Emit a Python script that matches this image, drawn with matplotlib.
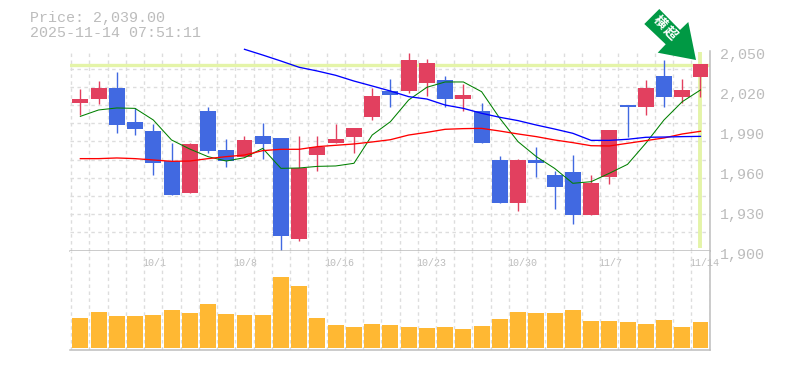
import matplotlib
matplotlib.use("Agg")
import matplotlib.pyplot as plt
import numpy as np
from matplotlib.patches import Polygon
from matplotlib.ticker import FixedLocator
from matplotlib.transforms import ScaledTranslation

W, H = 785, 370
plt.rcParams['font.family'] = ['Liberation Mono', 'Noto Sans CJK JP', 'DejaVu Sans']

highs  = [2021,2027,2034,2007,1995,1981,1981,2008,1984,1986,1996,1984,1986,1986,1995,1992,2022,2029,2048,2044,2031,2025,2011,1971,1969,1978,1960,1972,1957,1990,2009,2028,2043,2029,2040]
tops   = [2014,2022,2022,1996,1990,1967,1980,2005,1975,1983,1986,1984,1962,1978,1984,1992,2016,2020,2043,2041,2028,2017,2005,1968,1968,1968,1957,1959,1951,1990,2009,2022,2031,2020,2040]
bots   = [2011,2014,1994,1991,1966,1942,1943,1975,1967,1970,1980,1911,1909,1972,1981,1985,2000,2017,2020,2026,2014,2014,1981,1936,1936,1966,1948,1927,1927,1955,2008,2008,2015,2015,2030]
lows   = [2002,2010,1988,1987,1957,1942,1943,1973,1963,1970,1969,1900,1907,1960,1981,1973,1998,2008,2018,2016,2008,2005,1981,1936,1930,1955,1931,1920,1927,1950,1985,2002,2008,2011,2015]
rising = [1,1,0,0,0,0,1,0,0,1,0,0,1,1,1,1,1,0,1,1,0,1,0,0,1,0,0,0,1,1,0,1,0,1,1]
ma_short = [2000.6,2005.4,2006.9,2006.6,1997.9,1982.9,1976.1,1970.4,1967.1,1969.6,1976.6,1961.6,1961.9,1963.1,1963.4,1965.4,1986.6,1996.6,2012.9,2022.4,2026.4,2026.4,2019.1,1999.1,1981.6,1970.4,1961.6,1950.4,1951.6,1957.9,1964.6,1980.4,1997.9,2011.6,2020.4]
ma_mid = [1968.9,1968.9,1969.4,1968.9,1967.9,1966.9,1967.1,1968.9,1970.4,1971.6,1974.9,1975.9,1975.9,1977.9,1978.9,1979.9,1981.4,1983.1,1986.6,1988.6,1990.9,1991.4,1991.6,1989.6,1987.4,1985.4,1982.9,1980.9,1978.6,1978.4,1980.4,1982.4,1984.4,1987.4,1989.4]
ma_long_start = 9
ma_long = [2050.9,2046.6,2042.1,2037.4,2034.6,2031.4,2027.1,2023.4,2019.6,2015.4,2013.6,2009.1,2006.6,2002.9,1999.9,1997.4,1994.1,1991.1,1987.9,1982.6,1982.6,1983.4,1984.9,1985.1,1985.4,1985.6]
volumes = [30,36,32,32,33,38,35,44,34,33,33,71,62,30,23,21,24,23,21,20,21,19,22,29,36,35,35,38,27,27,26,24,28,21,26]
date_idx = [4,9,14,19,24,29,34]
date_labels = ['10/1','10/8','10/16','10/23','10/30','11/7','11/14']
y_ticks = [1900,1930,1960,1990,2020,2050]
y_labels = ['1,900','1,930','1,960','1,990','2,020','2,050']
last_price = 2039

RED, BLUE, GOLD = '#e2405f', '#4169e1', '#ffb833'
GRID, AX, TXT = '#dddddd', '#bdbdbd', '#bcbcbc'
HL = '#e4f4a8'

fig = plt.figure(figsize=(W/100, H/100), dpi=100)
def rect(l, t, r, b):
    return [l/W, 1-b/H, (r-l)/W, (b-t)/H]
ax = fig.add_axes(rect(70.3, 50.5, 709.6, 250.5))
av = fig.add_axes(rect(70.3, 250.5, 709.6, 350.3))
n = len(tops)
xs = np.arange(n)
for a in (ax, av):
    a.set_xlim(-0.55, n-0.5)
    a.xaxis.set_minor_locator(FixedLocator(np.arange(n+1)-0.5))
    a.grid(True, which='minor', axis='x', color=GRID, ls=(0,(2.5,2.5)), lw=1)
    a.tick_params(which='both', length=0)
    a.set_axisbelow(True)
    for s in ('left','top'):
        a.spines[s].set_visible(False)
    for s in ('bottom','right'):
        a.spines[s].set_color(AX); a.spines[s].set_linewidth(1.1)

ax.set_ylim(1900, 2050)
ax.yaxis.set_minor_locator(FixedLocator(np.linspace(1900,2050,12)[1:]))
ax.grid(True, which='minor', axis='y', color=GRID, ls=(0,(2.5,2.5)), lw=1)

ax.axhline(last_price, color=HL, lw=2.4, zorder=1.5)
ax.plot([n-1, n-1], [1902, 2049], color=HL, lw=2.8, zorder=1.5, solid_capstyle='butt')

for i in xs:
    c = RED if rising[i] else BLUE
    ax.plot([i,i], [lows[i], highs[i]], color=c, lw=1.0, zorder=2, solid_capstyle='butt')
ax.bar(xs, np.array(tops)-np.array(bots), bottom=bots, width=0.875,
       color=[RED if r else BLUE for r in rising], zorder=2.5, lw=0)

ax.plot(xs, ma_short, color='#008000', lw=0.75, zorder=3)
ax.plot(xs, ma_mid, color='#ff0000', lw=0.95, zorder=3)
ax.plot(xs[ma_long_start:], ma_long, color='#0000ff', lw=0.95, zorder=3, clip_on=False)

ax.set_xticks([])
ax.yaxis.tick_right()
ax.set_yticks(y_ticks, y_labels, fontsize=10.8, color=TXT)
ax.tick_params(axis='y', which='major', pad=7.2)
off_y = ScaledTranslation(0, -2.6/100, fig.dpi_scale_trans)
for t in ax.get_yticklabels():
    t.set_transform(t.get_transform()+off_y)

av.bar(xs, volumes, width=0.875, color=GOLD, lw=0, zorder=2)
av.set_ylim(-2.1, 97.7)
av.set_yticks([])
av.xaxis.tick_top()
av.set_xticks(date_idx, date_labels, fontsize=7.2, color=TXT)
av.tick_params(axis='x', which='major', pad=0)
off_x = ScaledTranslation(-11/100, -12/100, fig.dpi_scale_trans)
for t in av.get_xticklabels():
    t.set_ha('left')
    t.set_va('center')
    t.set_transform(t.get_transform()+off_x)

fig.text(30/W, 1-18/H, 'Price: 2,039.00', fontsize=10.8, color=TXT, va='center', ha='left')
fig.text(30/W, 1-33/H, '2025-11-14 07:51:11', fontsize=10.8, color=TXT, va='center', ha='left')

pts = [(659.3,9),(644.3,24),(665.7,44.3),(657.7,52.7),(696,60),(688.3,22),(680,30)]
fig.add_artist(Polygon([(x/W, 1-y/H) for x,y in pts], closed=True, transform=fig.transFigure,
                       facecolor='#009944', edgecolor='none', zorder=5))
fig.text(659/W, 1-23/H, '横', fontsize=9.5, color='white', rotation=-45, ha='center', va='center',
         fontweight='bold', zorder=6)
fig.text(670/W, 1-34/H, '超', fontsize=9.5, color='white', rotation=-45, ha='center', va='center',
         fontweight='bold', zorder=6)

fig.savefig('out.png', dpi=100)
